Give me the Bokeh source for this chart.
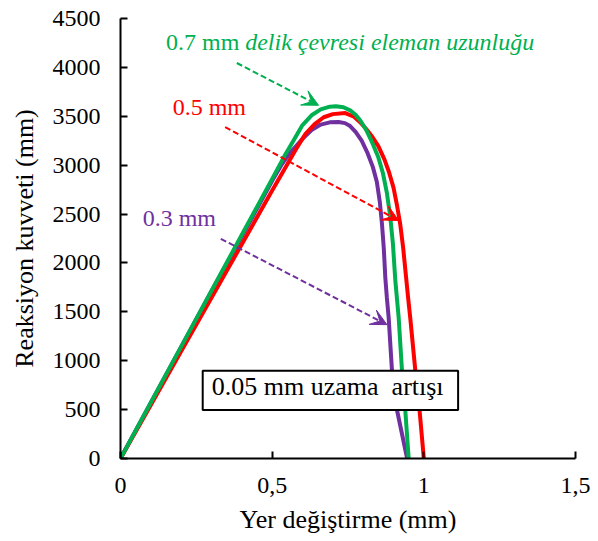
from bokeh.plotting import figure
from bokeh.models import Range1d, FixedTicker, Label, Arrow, VeeHead, BoxAnnotation
from bokeh.embed import file_html
from bokeh.resources import INLINE

# ---- data ----
x_ticks = [0, 0.5, 1, 1.5]
x_tick_labels = ["0", "0,5", "1", "1,5"]
y_ticks = [0, 500, 1000, 1500, 2000, 2500, 3000, 3500, 4000, 4500]

# 0.7 mm (green)
x_07 = [0, 0.1, 0.2, 0.3, 0.4, 0.5, 0.54, 0.57, 0.6, 0.63, 0.66, 0.69, 0.71, 0.735, 0.757,
        0.775, 0.79, 0.81, 0.83, 0.85, 0.865, 0.878, 0.889, 0.898, 0.906, 0.917, 0.928,
        0.939, 0.95]
y_07 = [0, 572, 1144, 1716, 2288, 2860, 3090, 3250, 3410, 3510, 3570, 3598, 3602, 3592, 3561,
        3515, 3459, 3360, 3230, 3080, 2920, 2720, 2480, 2200, 1820, 1444, 898,
        488, 0]

# 0.5 mm (red)
x_05 = [0, 0.1, 0.2, 0.3, 0.4, 0.5, 0.55, 0.58, 0.61, 0.64, 0.67, 0.7, 0.741, 0.77, 0.79,
        0.81, 0.83, 0.85, 0.87, 0.885, 0.9, 0.912, 0.922, 0.932, 0.94, 0.948, 0.955, 0.972,
        0.986, 1.0]
y_05 = [0, 548, 1096, 1644, 2192, 2740, 3010, 3170, 3320, 3420, 3490, 3522, 3533, 3495, 3440,
        3370, 3290, 3195, 3060, 2930, 2770, 2580, 2400, 2150, 1900, 1650, 1444, 898,
        488, 0]

# 0.3 mm (purple)
x_03 = [0, 0.1, 0.2, 0.3, 0.4, 0.5, 0.53, 0.56, 0.6, 0.63, 0.66, 0.69, 0.719, 0.74, 0.757,
        0.775, 0.795, 0.815, 0.832, 0.845, 0.855, 0.862, 0.868, 0.873, 0.878, 0.884, 0.895,
        0.903, 0.912, 0.945]
y_03 = [0, 570, 1140, 1710, 2270, 2840, 3000, 3130, 3270, 3360, 3415, 3438, 3441, 3430, 3400,
        3340, 3250, 3120, 2980, 2830, 2620, 2400, 2150, 1850, 1650, 1444, 898,
        640, 488, 0]

GREEN = "#00B050"
RED = "#FF0000"
PURPLE = "#7030A0"
FONT = "Liberation Serif"

p = figure(width=598, height=541, output_backend="svg", toolbar_location=None,
           x_range=Range1d(0, 1.5), y_range=Range1d(0, 4500),
           min_border_left=120, min_border_right=23, min_border_top=18, min_border_bottom=83)
p.outline_line_color = None
p.grid.visible = False
p.background_fill_color = "white"
p.border_fill_color = "white"

for ax in (p.xaxis[0], p.yaxis[0]):
    ax.axis_line_color = "black"
    ax.axis_line_width = 2
    ax.major_tick_line_color = "black"
    ax.major_tick_line_width = 2
    ax.major_tick_in = 7
    ax.major_tick_out = 0
    ax.minor_tick_line_color = None
    ax.major_label_text_font = FONT
    ax.major_label_text_font_size = "24px"
    ax.major_label_text_color = "black"
    ax.axis_label_text_font = FONT
    ax.axis_label_text_font_size = "26px"
    ax.axis_label_text_font_style = "normal"
    ax.axis_label_text_color = "black"

p.xaxis.ticker = FixedTicker(ticks=x_ticks)
p.xaxis.major_label_overrides = {t: s for t, s in zip(x_ticks, x_tick_labels)}
p.yaxis.ticker = FixedTicker(ticks=y_ticks)
p.xaxis.major_label_standoff = 19
p.yaxis.major_label_standoff = 20
p.xaxis.axis_label = "Yer değiştirme (mm)"
p.yaxis.axis_label = "Reaksiyon kuvveti (mm)"
p.xaxis.axis_label_standoff = 9
p.yaxis.axis_label_standoff = 11

p.line(x_03, y_03, line_color=PURPLE, line_width=4)
p.line(x_05, y_05, line_color=RED, line_width=4)
p.line(x_07, y_07, line_color=GREEN, line_width=4)

# annotations
def arrow(xs, ys, xe, ye, color):
    p.add_layout(Arrow(x_start=xs, y_start=ys, x_end=xe, y_end=ye,
                       line_color=color, line_width=2, line_dash="6 3",
                       end=VeeHead(size=16, fill_color=color, line_color=color, line_width=1)))

arrow(0.3835, 4045, 0.6528, 3612, GREEN)
arrow(0.3449, 3390, 0.9168, 2434, RED)
arrow(0.3307, 2247, 0.8785, 1369, PURPLE)

p.add_layout(Label(x=0.150, y=4124, text="0.7 mm", text_font=FONT, text_font_size="24px",
                   text_color=GREEN))
p.add_layout(Label(x=0.411, y=4124, text="delik çevresi eleman uzunluğu", text_font=FONT,
                   text_font_size="24px", text_font_style="italic", text_color=GREEN))
p.add_layout(Label(x=0.172, y=3458, text="0.5 mm", text_font=FONT, text_font_size="24px",
                   text_color=RED))
p.add_layout(Label(x=0.073, y=2325, text="0.3 mm", text_font=FONT, text_font_size="24px",
                   text_color=PURPLE))

p.add_layout(BoxAnnotation(left=0.271, right=1.113, bottom=496, top=898,
                           fill_color="white", fill_alpha=1.0,
                           line_color="black", line_alpha=1.0, line_width=2))
p.add_layout(Label(x=0.301, y=591, text="0.05 mm uzama\u00a0 artışı", text_font=FONT,
                   text_font_size="26px", text_color="black"))

open("out.html", "w").write(file_html(p, INLINE))
